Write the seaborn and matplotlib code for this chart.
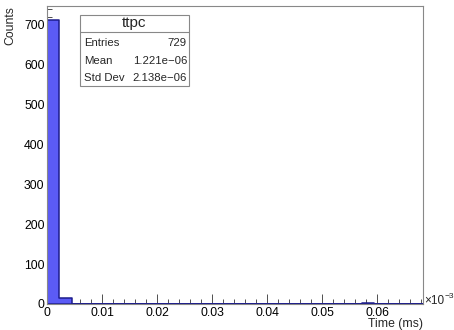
import numpy as np
import pandas as pd
import matplotlib
matplotlib.use("Agg")
import matplotlib.pyplot as plt
from matplotlib.ticker import MultipleLocator, FuncFormatter
from matplotlib.patches import Rectangle
import seaborn as sns

# histogram "ttpc" : 31 bins, time in units of 1e-3 ms
x_min, x_max, n_bins = 0.0, 0.0683, 31
counts = [711, 15, 0, 0, 0, 0, 0, 0, 0, 0,
          0, 0, 0, 0, 0, 0, 0, 0, 0, 0,
          0, 0, 0, 0, 0, 0, 3, 0, 0, 0, 0]
stats_title = "ttpc"
stats_names = ["Entries", "Mean", "Std Dev"]
stats_values = ["729", "1.221e\u221206", "2.138e\u221206"]

edges = np.linspace(x_min, x_max, n_bins + 1)
centers = (edges[:-1] + edges[1:]) / 2
df = pd.DataFrame({"time": centers, "counts": counts})

sns.set_style("ticks")
plt.rcParams['font.family'] = ['Liberation Sans', 'DejaVu Sans']

W, H = 454, 330
fig = plt.figure(figsize=(W / 100, H / 100), dpi=100)
ax = fig.add_axes([47.3 / W, 1 - 304 / H, (422.7 - 47.3) / W, (304 - 6) / H])

sns.histplot(data=df, x="time", weights="counts", bins=list(edges), element="step",
             color="#5b5bf5", edgecolor="#1c1c8c", alpha=1, linewidth=1.1, ax=ax)

ax.set_xlim(x_min, x_max)
ax.set_ylim(0, 1.05 * max(counts))

ax.xaxis.set_major_locator(MultipleLocator(0.01))
ax.xaxis.set_minor_locator(MultipleLocator(0.002))
ax.yaxis.set_major_locator(MultipleLocator(100))
ax.yaxis.set_minor_locator(MultipleLocator(20))
fmt = FuncFormatter(lambda v, p: "0" if abs(v) < 1e-12 else f"{v:g}")
ax.xaxis.set_major_formatter(fmt)
ax.yaxis.set_major_formatter(fmt)

ax.tick_params(which="both", direction="in", colors="#333333", labelcolor="black",
               labelsize=8.8, width=0.6, top=False, right=False)
ax.tick_params(axis="x", pad=2.5)
ax.tick_params(axis="y", pad=2)
ax.tick_params(which="major", length=7)
ax.tick_params(which="minor", length=3.5)
for s in ax.spines.values():
    s.set_color("#888888")
    s.set_linewidth(0.8)

ax.set_xlabel("")
ax.set_ylabel("")
fig.text(422.7 / W, 1 - 324.5 / H, "Time (ms)", ha="right", va="center", fontsize=8.8)
fig.text(10 / W, 1 - 6 / H, "Counts", ha="center", va="top", rotation=90, fontsize=8.8)
fig.text(424 / W, 1 - 301 / H, "\u00d710", ha="left", va="center", fontsize=8.5)
fig.text(445 / W, 1 - 296 / H, "\u22123", ha="left", va="center", fontsize=6)


def fp(x, y):
    return x / W, 1 - y / H


# stats box
bx0, bx1, by0, by1 = 80, 189, 15, 86
fig.patches.append(Rectangle(fp(bx0, by1), (bx1 - bx0) / W, (by1 - by0) / H,
                             transform=fig.transFigure, facecolor="white",
                             edgecolor="#888888", linewidth=0.8, zorder=5))
fig.lines.append(plt.Line2D([bx0 / W, bx1 / W], [1 - 32 / H, 1 - 32 / H],
                            transform=fig.transFigure, color="#888888", linewidth=0.8, zorder=6))
fig.text(*fp((bx0 + bx1) / 2, 23.5), stats_title, ha="center", va="center", fontsize=11, zorder=7)
for i, (n, v) in enumerate(zip(stats_names, stats_values)):
    yy = 43 + i * 17.5
    fig.text(*fp(84, yy), n, ha="left", va="center", fontsize=8.2, zorder=7)
    fig.text(*fp(187, yy), v, ha="right", va="center", fontsize=8.2, zorder=7)

fig.savefig("out.png", dpi=100)
